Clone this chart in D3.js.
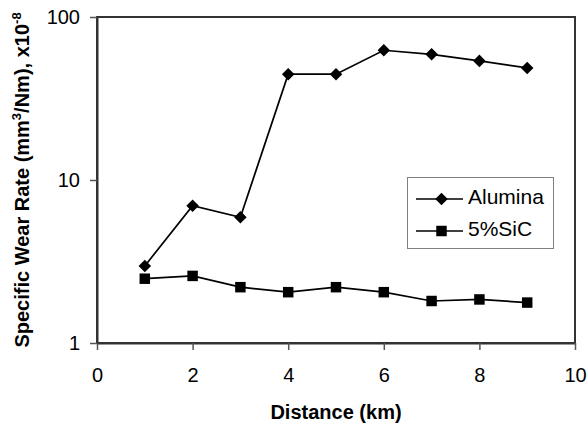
<!DOCTYPE html>
<html>
<head>
<meta charset="utf-8">
<script src="https://cdn.jsdelivr.net/npm/d3@7"></script>
<style>
  body { margin: 0; background: #fff; }
  svg { display: block; font-family: Arial, "Liberation Sans", sans-serif; }
</style>
</head>
<body>
<div id="chart"></div>
<script>
// data
const distance = [1, 2, 3, 4, 5, 6, 7, 8, 9];
const alumina = [2.97, 6.96, 5.91, 44.6, 44.6, 62.5, 59.0, 53.8, 48.7];
const sic = [2.48, 2.58, 2.20, 2.05, 2.20, 2.05, 1.81, 1.85, 1.77];
const xTicks = [0, 2, 4, 6, 8, 10];
const yTicks = [1, 10, 100];
const seriesNames = ['Alumina', '5%SiC'];

const width = 587, height = 427;
const margin = {left: 97, right: 12, top: 17, bottom: 84};
const plotW = width - margin.left - margin.right;
const plotH = height - margin.top - margin.bottom;

const svg = d3.select('#chart').append('svg')
    .attr('width', width)
    .attr('height', height);

const x = d3.scaleLinear().domain([0, 10]).range([margin.left, margin.left + plotW]);
const y = d3.scaleLog().domain([1, 100]).range([margin.top + plotH, margin.top]);

// frame
svg.append('rect')
    .attr('x', x(0)).attr('y', y(100))
    .attr('width', x(10) - x(0)).attr('height', y(1) - y(100))
    .attr('fill', 'none').attr('stroke', '#333').attr('stroke-width', 2);

const xAxis = d3.axisBottom(x).tickValues(xTicks).tickSize(7).tickSizeOuter(0).tickPadding(18);
const gx = svg.append('g')
    .attr('transform', 'translate(0,' + y(1) + ')')
    .call(xAxis);

const yAxis = d3.axisLeft(y).tickValues(yTicks).tickFormat(d3.format('d')).tickSize(7).tickSizeOuter(0).tickPadding(10);
const gy = svg.append('g')
    .attr('transform', 'translate(' + x(0) + ',0)')
    .call(yAxis);

[gx, gy].forEach(g => {
    g.select('.domain').attr('stroke', '#333').attr('stroke-width', 2);
    g.selectAll('.tick line').attr('stroke', '#555').attr('stroke-width', 1.5);
    g.selectAll('.tick text').attr('font-size', 20).attr('fill', '#000')
        .attr('font-family', 'Arial, "Liberation Sans", sans-serif');
});

// axis titles
svg.append('text')
    .attr('x', (x(0) + x(10)) / 2).attr('y', 419)
    .attr('text-anchor', 'middle')
    .attr('font-size', 20).attr('font-weight', 'bold')
    .text('Distance (km)');

const yt = svg.append('text')
    .attr('transform', 'translate(29,' + ((y(1) + y(100)) / 2) + ') rotate(-90)')
    .attr('text-anchor', 'middle')
    .attr('font-size', 20).attr('font-weight', 'bold');
yt.append('tspan').text('Specific Wear Rate (mm');
yt.append('tspan').attr('font-size', 13).attr('dy', -8).text('3');
yt.append('tspan').attr('dy', 8).text('/Nm), x10');
yt.append('tspan').attr('font-size', 13).attr('dy', -8).text('-8');

// series
const line = d3.line().x(d => x(d[0])).y(d => y(d[1]));
const aluData = distance.map((d, i) => [d, alumina[i]]);
const sicData = distance.map((d, i) => [d, sic[i]]);

const diamond = d3.symbol().type(d3.symbolDiamond2).size(100);
const square = d3.symbol().type(d3.symbolSquare).size(110);

svg.append('path').datum(aluData)
    .attr('d', line).attr('fill', 'none').attr('stroke', '#000').attr('stroke-width', 1.7);
svg.append('path').datum(sicData)
    .attr('d', line).attr('fill', 'none').attr('stroke', '#000').attr('stroke-width', 1.7);

svg.selectAll('.alu').data(aluData).enter().append('path')
    .attr('class', 'alu')
    .attr('d', diamond)
    .attr('transform', d => 'translate(' + x(d[0]) + ',' + y(d[1]) + ')')
    .attr('fill', '#000');

svg.selectAll('.sic').data(sicData).enter().append('path')
    .attr('class', 'sic')
    .attr('d', square)
    .attr('transform', d => 'translate(' + x(d[0]) + ',' + y(d[1]) + ')')
    .attr('fill', '#000');

// legend
const legend = svg.append('g');
legend.append('rect')
    .attr('x', 407.5).attr('y', 177.5).attr('width', 146).attr('height', 71)
    .attr('fill', '#fff').attr('stroke', '#808080').attr('stroke-width', 1);

const rows = [199, 231];
const symbols = [diamond, square];
seriesNames.forEach((name, i) => {
    legend.append('line')
        .attr('x1', 416).attr('x2', 463).attr('y1', rows[i]).attr('y2', rows[i])
        .attr('stroke', '#000').attr('stroke-width', 1.5);
    legend.append('path')
        .attr('d', symbols[i])
        .attr('transform', 'translate(441.5,' + rows[i] + ')')
        .attr('fill', '#000');
    legend.append('text')
        .attr('x', 468).attr('y', rows[i] + 4.5)
        .attr('font-size', 21)
        .text(name);
});
</script>
</body>
</html>
